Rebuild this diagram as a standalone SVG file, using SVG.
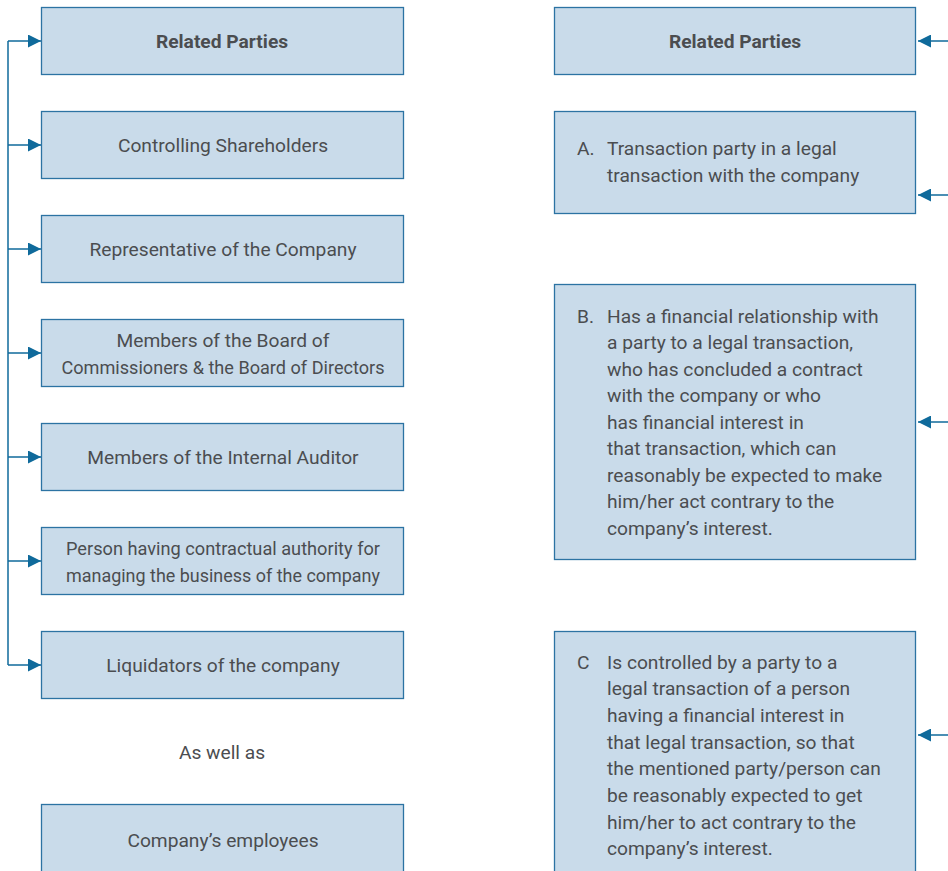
<svg xmlns="http://www.w3.org/2000/svg" width="948" height="871" viewBox="0 0 948 871">
<defs>
<style>
.box{fill:#c9dbea;stroke:#2c73a3;stroke-width:1.3}
.t{font-family:Roboto,"Liberation Sans",sans-serif;font-size:19.2px;fill:#4b4d50}
.c{text-anchor:middle}
.b{font-weight:bold}
.con{fill:none;stroke:#0f6a9b;stroke-width:1.5}
</style>
<marker id="ah" viewBox="0 0 10 10" refX="10" refY="5" markerWidth="16" markerHeight="13" markerUnits="userSpaceOnUse" orient="auto">
<path d="M0,0 L10,5 L0,10 z" fill="#0f6a9b"/>
</marker>
</defs>
<rect width="948" height="871" fill="#ffffff"/>
<g id="connectors">
<path class="con" d="M8,41 V665"/>
<path class="con" d="M8,41 H41" marker-end="url(#ah)"/>
<path class="con" d="M8,145 H41" marker-end="url(#ah)"/>
<path class="con" d="M8,249 H41" marker-end="url(#ah)"/>
<path class="con" d="M8,353 H41" marker-end="url(#ah)"/>
<path class="con" d="M8,457 H41" marker-end="url(#ah)"/>
<path class="con" d="M8,561 H41" marker-end="url(#ah)"/>
<path class="con" d="M8,665 H41" marker-end="url(#ah)"/>
<path class="con" d="M948,41 H918" marker-end="url(#ah)"/>
<path class="con" d="M948,195 H918" marker-end="url(#ah)"/>
<path class="con" d="M948,422 H918" marker-end="url(#ah)"/>
<path class="con" d="M948,735 H918" marker-end="url(#ah)"/>
</g>
<g id="l1"><rect class="box" x="41.5" y="7.5" width="362" height="67"/><text class="t c b" x="222" y="47.5">Related Parties</text></g>
<g id="l2"><rect class="box" x="41.5" y="111.5" width="362" height="67"/><text class="t c" x="223" y="151.5">Controlling Shareholders</text></g>
<g id="l3"><rect class="box" x="41.5" y="215.5" width="362" height="67"/><text class="t c" x="223" y="255.5">Representative of the Company</text></g>
<g id="l4"><rect class="box" x="41.5" y="319.5" width="362" height="67"/><text class="t c" x="223" y="346.5">Members of the Board of</text><text class="t c" x="223" y="373.5" textLength="323" lengthAdjust="spacingAndGlyphs">Commissioners &amp; the Board of Directors</text></g>
<g id="l5"><rect class="box" x="41.5" y="423.5" width="362" height="67"/><text class="t c" x="223" y="463.5">Members of the Internal Auditor</text></g>
<g id="l6"><rect class="box" x="41.5" y="527.5" width="362" height="67"/><text class="t c" x="223" y="554.5" textLength="314" lengthAdjust="spacingAndGlyphs">Person having contractual authority for</text><text class="t c" x="223" y="581.5" textLength="314" lengthAdjust="spacingAndGlyphs">managing the business of the company</text></g>
<g id="l7"><rect class="box" x="41.5" y="631.5" width="362" height="67"/><text class="t c" x="223" y="671.5">Liquidators of the company</text></g>
<g id="aswell"><text class="t c" x="222" y="759">As well as</text></g>
<g id="l8"><rect class="box" x="41.5" y="804.5" width="362" height="80"/><text class="t c" x="223" y="846.5">Company’s employees</text></g>
<g id="r1"><rect class="box" x="554.5" y="7.5" width="361" height="67"/><text class="t c b" x="735" y="47.5">Related Parties</text></g>
<g id="r2"><rect class="box" x="554.5" y="111.5" width="361" height="102"/><text class="t" x="577" y="154.5">A.</text><text class="t" x="607" y="154.5">Transaction party in a legal</text><text class="t" x="607" y="181.5">transaction with the company</text></g>
<g id="r3"><rect class="box" x="554.5" y="284.5" width="361" height="275"/>
<text class="t" x="577" y="322.5">B.</text>
<text class="t" x="607" y="322.5">Has a financial relationship with</text>
<text class="t" x="607" y="349">a party to a legal transaction,</text>
<text class="t" x="607" y="375.5">who has concluded a contract</text>
<text class="t" x="607" y="402">with the company or who</text>
<text class="t" x="607" y="428.5">has financial interest in</text>
<text class="t" x="607" y="455">that transaction, which can</text>
<text class="t" x="607" y="481.5">reasonably be expected to make</text>
<text class="t" x="607" y="508">him/her act contrary to the</text>
<text class="t" x="607" y="534.5">company’s interest.</text>
</g>
<g id="r4"><rect class="box" x="554.5" y="631.5" width="361" height="260"/>
<text class="t" x="577" y="668.5">C</text>
<text class="t" x="607" y="668.5">Is controlled by a party to a</text>
<text class="t" x="607" y="695.2">legal transaction of a person</text>
<text class="t" x="607" y="721.9">having a financial interest in</text>
<text class="t" x="607" y="748.6">that legal transaction, so that</text>
<text class="t" x="607" y="775.3">the mentioned party/person can</text>
<text class="t" x="607" y="802">be reasonably expected to get</text>
<text class="t" x="607" y="828.7">him/her to act contrary to the</text>
<text class="t" x="607" y="855.4">company’s interest.</text>
</g>
</svg>
